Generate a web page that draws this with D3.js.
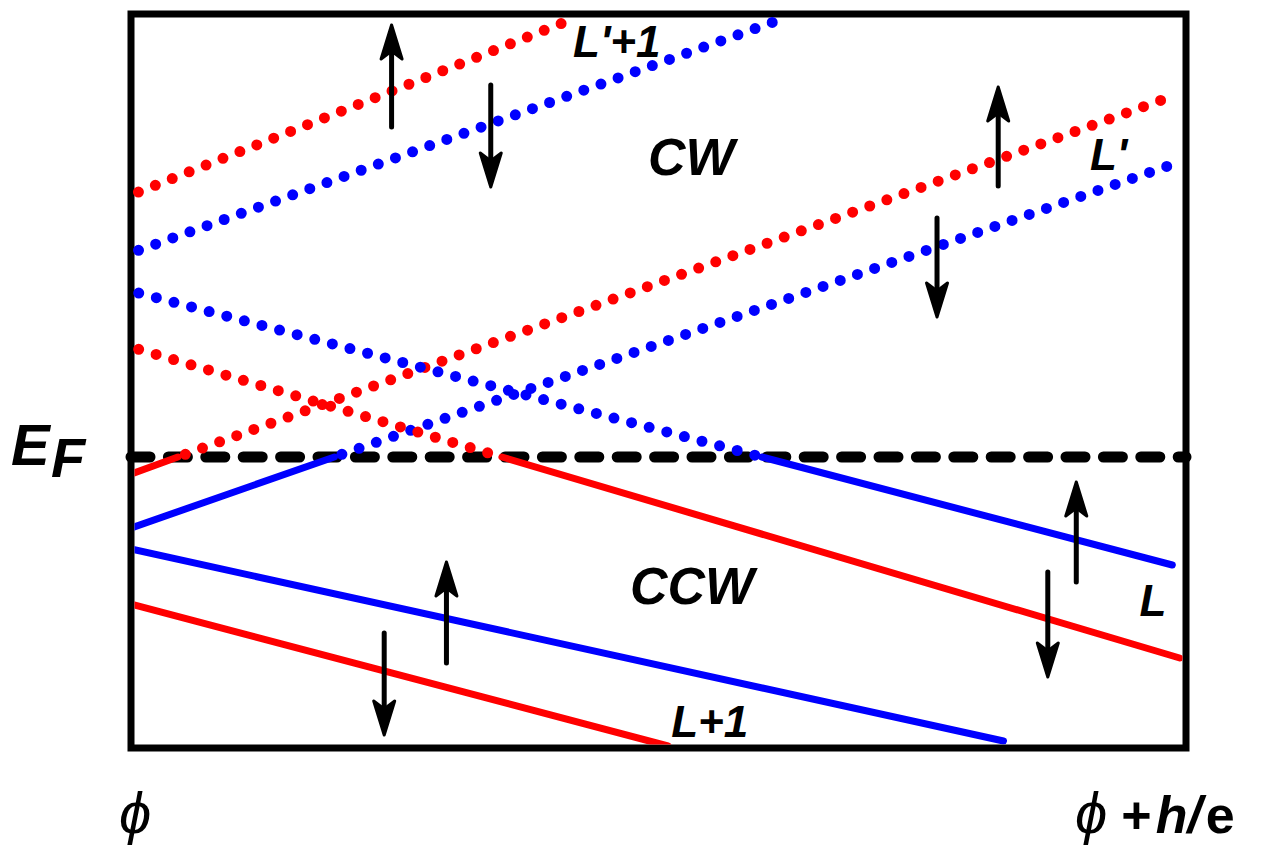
<!DOCTYPE html>
<html>
<head>
<meta charset="utf-8">
<script src="https://cdn.jsdelivr.net/npm/d3@7"></script>
<style>
  body { margin: 0; background: #fff; }
  svg text { font-family: "Liberation Sans", Arial, sans-serif; font-weight: bold; font-style: italic; fill: #000; }
</style>
</head>
<body>
<svg id="chart"></svg>
<script>
// flux in units of h/e (0 = phi, 1 = phi + h/e), energy in arbitrary units, E_F = 0
const fluxDomain = [0, 1];
const energyDomain = [-2.91, 4.43];

// levels: energy at phi, and flux / energy where the drawn segment ends
const levelColors = ["red", "blue", "red", "blue", "blue", "red", "blue", "red"];
const levelE0 = [-0.17, -0.71, 2.62, 2.04, 1.66, 1.10, -0.92, -1.47];
const levelF1 = [0.985, 0.991, 0.421, 0.609, 0.987, 0.994, 0.827, 0.509];
const levelE1 = [3.60, 2.94, 4.39, 4.35, -1.08, -2.01, -2.84, -2.89];

// spin arrows
const arrowF = [0.247, 0.341, 0.822, 0.764, 0.896, 0.869, 0.299, 0.240];
const arrowTail = [3.30, 3.72, 2.71, 2.39, -1.25, -1.15, -2.06, -1.76];
const arrowTip = [4.32, 2.70, 3.70, 1.40, -0.25, -2.20, -1.05, -2.78];

// labels inside the box
const labelText = ["L'+1", "CW", "L'", "CCW", "L", "L+1"];
const labelF = [0.419, 0.490, 0.909, 0.473, 0.956, 0.512];
const labelE = [4.00, 2.82, 2.87, -1.47, -1.59, -2.80];

const colorMap = { red: "#ff0000", blue: "#0000ff" };

const width = 1262, height = 856;
const svg = d3.select("#chart").attr("width", width).attr("height", height);

const x = d3.scaleLinear().domain(fluxDomain).range([131, 1186]);
const y = d3.scaleLinear().domain(energyDomain).range([748, 14]);

svg.append("defs").append("clipPath").attr("id", "inner")
    .append("rect")
    .attr("x", x(0) + 3.5).attr("y", y(energyDomain[1]) + 3.5)
    .attr("width", x(1) - x(0) - 7).attr("height", y(energyDomain[0]) - y(energyDomain[1]) - 7);

// frame
svg.append("rect")
    .attr("x", x(0)).attr("y", y(energyDomain[1]))
    .attr("width", x(1) - x(0)).attr("height", y(energyDomain[0]) - y(energyDomain[1]))
    .attr("fill", "none").attr("stroke", "#000").attr("stroke-width", 7);

// Fermi level
svg.append("line")
    .attr("x1", x(0)).attr("x2", x(1))
    .attr("y1", y(0)).attr("y2", y(0))
    .attr("stroke", "#000").attr("stroke-width", 11)
    .attr("stroke-linecap", "round")
    .attr("stroke-dasharray", "19 18.4");

const line = d3.line().x(d => x(d[0])).y(d => y(d[1]));

levelE0.forEach((e0, i) => {
    const f1 = levelF1[i], e1 = levelE1[i];
    const col = colorMap[levelColors[i]];
    let below = null, above = null;
    if ((e0 < 0) !== (e1 < 0)) {
        const fc = (0 - e0) * f1 / (e1 - e0);
        if (e0 < 0) { below = [[0, e0], [fc, 0]]; above = [[fc, 0], [f1, e1]]; }
        else { above = [[0, e0], [fc, 0]]; below = [[fc, 0], [f1, e1]]; }
    } else if (e0 < 0) {
        below = [[0, e0], [f1, e1]];
    } else {
        above = [[0, e0], [f1, e1]];
    }
    if (below) {
        svg.append("path").datum(below)
            .attr("d", line)
            .attr("clip-path", "url(#inner)")
            .attr("fill", "none").attr("stroke", col)
            .attr("stroke-width", 7).attr("stroke-linecap", "round");
    }
    if (above) {
        svg.append("path").datum(above)
            .attr("d", line)
            .attr("fill", "none").attr("stroke", col)
            .attr("stroke-width", 11).attr("stroke-linecap", "round")
            .attr("stroke-dasharray", "0 18.2")
            .attr("stroke-dashoffset", -8);
    }
});

// arrows
arrowF.forEach((f, i) => {
    const ax = x(f), y0 = y(arrowTail[i]), y1 = y(arrowTip[i]);
    const dir = y1 < y0 ? -1 : 1;
    const headLen = 34, halfW = 10.5, notch = 26;
    svg.append("line")
        .attr("x1", ax).attr("x2", ax)
        .attr("y1", y0).attr("y2", y1 - dir * notch)
        .attr("stroke", "#000").attr("stroke-width", 5).attr("stroke-linecap", "round");
    const p = d3.path();
    p.moveTo(ax, y1);
    p.lineTo(ax - halfW, y1 - dir * headLen);
    p.lineTo(ax, y1 - dir * notch);
    p.lineTo(ax + halfW, y1 - dir * headLen);
    p.closePath();
    svg.append("path").attr("d", p.toString())
        .attr("fill", "#000").attr("stroke", "#000")
        .attr("stroke-width", 3).attr("stroke-linejoin", "round");
});

// labels
labelText.forEach((t, i) => {
    svg.append("text")
        .attr("x", x(labelF[i])).attr("y", y(labelE[i]))
        .style("font-size", (t === "CW" || t === "CCW") ? "52px" : "44px")
        .text(t);
});

// E_F
svg.append("text").attr("x", 11).attr("y", y(0) + 8).style("font-size", "58px").text("E");
svg.append("text").attr("x", 51).attr("y", y(0) + 20).style("font-size", "56px").text("F");

// flux labels
svg.append("text")
    .attr("x", x(0) - 12).attr("y", 833)
    .style("font-size", "58px").style("font-weight", "normal")
    .text("\u03D5");

const rl = svg.append("text").attr("x", x(1) - 111).attr("y", 833);
rl.append("tspan").style("font-size", "58px").style("font-weight", "normal").text("\u03D5");
rl.append("tspan").attr("dx", 14).style("font-size", "52px").style("font-style", "normal").text("+");
rl.append("tspan").attr("dx", 4).style("font-size", "52px").text("h/");
rl.append("tspan").attr("dx", 4).style("font-size", "52px").style("font-style", "normal").text("e");
</script>
</body>
</html>
